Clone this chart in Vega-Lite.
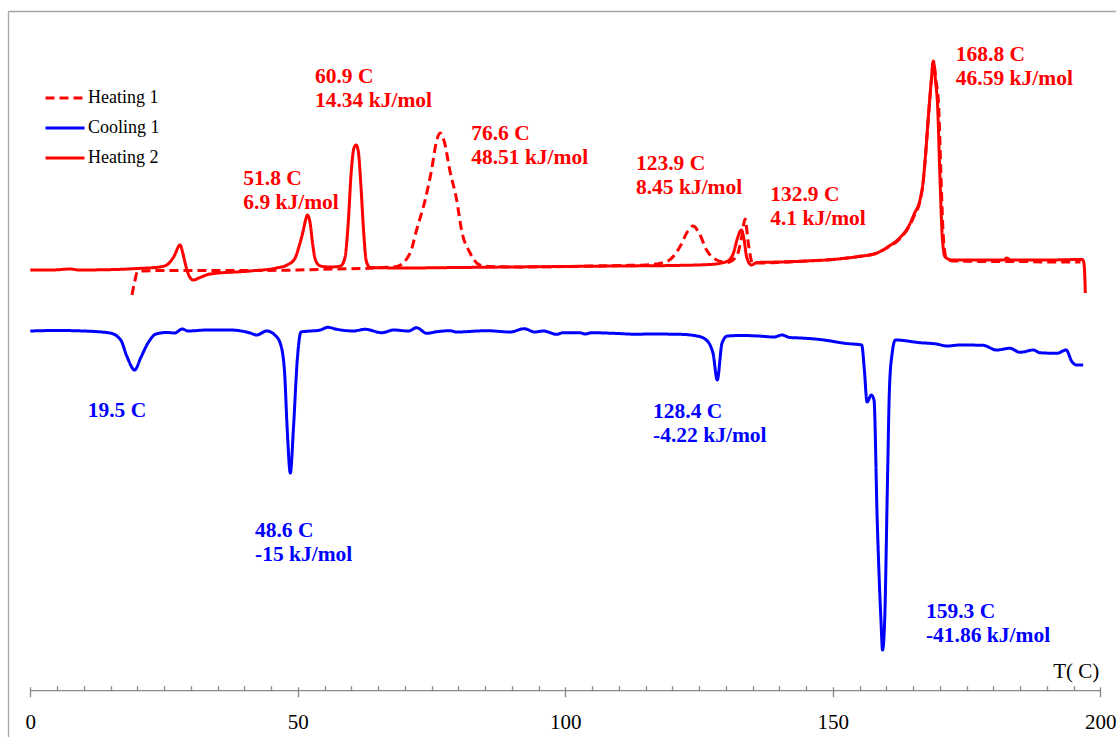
{
  "$schema": "https://vega.github.io/schema/vega-lite/v6.json",
  "width": 1108,
  "height": 726,
  "autosize": {"type": "none"},
  "padding": {"left": 8, "top": 11, "right": 0, "bottom": 0},
  "background": "white",
  "config": {
    "view": {"stroke": null},
    "axis": {"grid": false},
    "font": "Liberation Serif",
    "legend": {"labelFont": "Liberation Serif", "labelFontSize": 18, "labelColor": "#000000"}
  },
  "datasets": {
    "dsc": [
      {"series":"Heating 1","T":19.0,"hf":45.6},{"series":"Heating 1","T":19.5,"hf":46.9},{"series":"Heating 1","T":20.0,"hf":47.9},{"series":"Heating 1","T":20.5,"hf":48.0},{"series":"Heating 1","T":25,"hf":48.05},{"series":"Heating 1","T":30,"hf":48.05},{"series":"Heating 1","T":40,"hf":48.05},{"series":"Heating 1","T":50,"hf":48.1},{"series":"Heating 1","T":57,"hf":48.2},{"series":"Heating 1","T":62,"hf":48.25},{"series":"Heating 1","T":66,"hf":48.35},{"series":"Heating 1","T":68.5,"hf":48.45},{"series":"Heating 1","T":71.0,"hf":49.8},{"series":"Heating 1","T":72.2,"hf":52.1},{"series":"Heating 1","T":73.8,"hf":55.1},{"series":"Heating 1","T":75.0,"hf":58.1},{"series":"Heating 1","T":75.9,"hf":60.9},{"series":"Heating 1","T":76.6,"hf":61.8},{"series":"Heating 1","T":77.4,"hf":60.9},{"series":"Heating 1","T":78.4,"hf":58.1},{"series":"Heating 1","T":79.7,"hf":55.1},{"series":"Heating 1","T":80.6,"hf":52.1},{"series":"Heating 1","T":82.2,"hf":49.8},{"series":"Heating 1","T":84,"hf":48.6},{"series":"Heating 1","T":86,"hf":48.45},{"series":"Heating 1","T":90,"hf":48.4},{"series":"Heating 1","T":100,"hf":48.45},{"series":"Heating 1","T":110,"hf":48.55},{"series":"Heating 1","T":115,"hf":48.6},{"series":"Heating 1","T":119.0,"hf":48.95},{"series":"Heating 1","T":121.4,"hf":50.4},{"series":"Heating 1","T":122.8,"hf":51.9},{"series":"Heating 1","T":123.9,"hf":52.5},{"series":"Heating 1","T":125.0,"hf":51.8},{"series":"Heating 1","T":126.4,"hf":50.1},{"series":"Heating 1","T":128.3,"hf":49.1},{"series":"Heating 1","T":130.2,"hf":48.85},{"series":"Heating 1","T":132.0,"hf":49.45},{"series":"Heating 1","T":133.0,"hf":51.5},{"series":"Heating 1","T":133.6,"hf":53.2},{"series":"Heating 1","T":134.2,"hf":50.8},{"series":"Heating 1","T":135.0,"hf":48.8},{"series":"Heating 1","T":136,"hf":48.8},{"series":"Heating 1","T":140,"hf":48.85},{"series":"Heating 1","T":145,"hf":49.0},{"series":"Heating 1","T":150,"hf":49.15},{"series":"Heating 1","T":154.8,"hf":49.45},{"series":"Heating 1","T":158,"hf":49.75},{"series":"Heating 1","T":160.4,"hf":50.4},{"series":"Heating 1","T":162.5,"hf":51.2},{"series":"Heating 1","T":164.1,"hf":52.3},{"series":"Heating 1","T":165.3,"hf":53.6},{"series":"Heating 1","T":166.3,"hf":55.0},{"series":"Heating 1","T":166.9,"hf":56.9},{"series":"Heating 1","T":167.3,"hf":59.3},{"series":"Heating 1","T":168.0,"hf":64.3},{"series":"Heating 1","T":168.4,"hf":66.9},{"series":"Heating 1","T":168.8,"hf":68.9},{"series":"Heating 1","T":169.3,"hf":67.0},{"series":"Heating 1","T":169.8,"hf":64.4},{"series":"Heating 1","T":170.2,"hf":57.8},{"series":"Heating 1","T":170.7,"hf":51.1},{"series":"Heating 1","T":171.2,"hf":49.3},{"series":"Heating 1","T":172.5,"hf":49.0},{"series":"Heating 1","T":180,"hf":48.95},{"series":"Heating 1","T":185,"hf":48.95},{"series":"Heating 1","T":190,"hf":48.9},{"series":"Heating 1","T":196.3,"hf":48.9},

      {"series":"Cooling 1","T":0,"hf":42.0},{"series":"Cooling 1","T":5,"hf":42.05},{"series":"Cooling 1","T":10,"hf":42.0},{"series":"Cooling 1","T":14.9,"hf":41.8},{"series":"Cooling 1","T":16.9,"hf":41.1},{"series":"Cooling 1","T":18.1,"hf":39.4},{"series":"Cooling 1","T":19.5,"hf":38.1},{"series":"Cooling 1","T":20.7,"hf":39.4},{"series":"Cooling 1","T":22.0,"hf":40.8},{"series":"Cooling 1","T":23.5,"hf":41.7},{"series":"Cooling 1","T":25.5,"hf":41.85},{"series":"Cooling 1","T":27.0,"hf":41.8},{"series":"Cooling 1","T":28.4,"hf":42.2},{"series":"Cooling 1","T":29.5,"hf":42.0},{"series":"Cooling 1","T":33,"hf":42.1},{"series":"Cooling 1","T":37.3,"hf":42.1},{"series":"Cooling 1","T":41.1,"hf":41.8},{"series":"Cooling 1","T":42.3,"hf":41.6},{"series":"Cooling 1","T":44.2,"hf":42.0},{"series":"Cooling 1","T":45.7,"hf":41.6},{"series":"Cooling 1","T":46.7,"hf":40.8},{"series":"Cooling 1","T":47.5,"hf":38.1},{"series":"Cooling 1","T":48.0,"hf":32.4},{"series":"Cooling 1","T":48.6,"hf":27.8},{"series":"Cooling 1","T":49.2,"hf":32.4},{"series":"Cooling 1","T":49.9,"hf":39.1},{"series":"Cooling 1","T":50.6,"hf":41.9},{"series":"Cooling 1","T":54.2,"hf":42.1},{"series":"Cooling 1","T":55.6,"hf":42.37},{"series":"Cooling 1","T":57.3,"hf":42.17},{"series":"Cooling 1","T":60.4,"hf":42.0},{"series":"Cooling 1","T":62.6,"hf":42.17},{"series":"Cooling 1","T":65.7,"hf":41.83},{"series":"Cooling 1","T":67.9,"hf":42.1},{"series":"Cooling 1","T":70.7,"hf":42.0},{"series":"Cooling 1","T":72.2,"hf":42.33},{"series":"Cooling 1","T":74.1,"hf":41.77},{"series":"Cooling 1","T":76.0,"hf":41.93},{"series":"Cooling 1","T":78.4,"hf":42.03},{"series":"Cooling 1","T":79.7,"hf":41.9},{"series":"Cooling 1","T":85.3,"hf":42.03},{"series":"Cooling 1","T":89.7,"hf":41.9},{"series":"Cooling 1","T":92.3,"hf":42.23},{"series":"Cooling 1","T":94.3,"hf":41.9},{"series":"Cooling 1","T":95.9,"hf":42.0},{"series":"Cooling 1","T":98.4,"hf":41.67},{"series":"Cooling 1","T":99.6,"hf":41.83},{"series":"Cooling 1","T":102.7,"hf":41.83},{"series":"Cooling 1","T":103.7,"hf":41.7},{"series":"Cooling 1","T":104.9,"hf":41.83},{"series":"Cooling 1","T":109.0,"hf":41.77},{"series":"Cooling 1","T":113.6,"hf":41.67},{"series":"Cooling 1","T":115.2,"hf":41.7},{"series":"Cooling 1","T":121.4,"hf":41.67},{"series":"Cooling 1","T":124.6,"hf":41.5},{"series":"Cooling 1","T":126.2,"hf":41.17},{"series":"Cooling 1","T":127.6,"hf":39.8},{"series":"Cooling 1","T":128.4,"hf":37.1},{"series":"Cooling 1","T":129.3,"hf":40.8},{"series":"Cooling 1","T":130.3,"hf":41.5},{"series":"Cooling 1","T":133,"hf":41.55},{"series":"Cooling 1","T":136,"hf":41.5},{"series":"Cooling 1","T":139,"hf":41.4},{"series":"Cooling 1","T":140.5,"hf":41.6},{"series":"Cooling 1","T":142,"hf":41.35},{"series":"Cooling 1","T":144,"hf":41.3},{"series":"Cooling 1","T":147.6,"hf":41.15},{"series":"Cooling 1","T":152.6,"hf":40.75},{"series":"Cooling 1","T":155.4,"hf":40.6},{"series":"Cooling 1","T":155.9,"hf":38.1},{"series":"Cooling 1","T":156.4,"hf":34.9},{"series":"Cooling 1","T":157.2,"hf":35.6},{"series":"Cooling 1","T":157.7,"hf":35.1},{"series":"Cooling 1","T":158.3,"hf":23.1},{"series":"Cooling 1","T":159.0,"hf":13.1},{"series":"Cooling 1","T":159.3,"hf":10.1},{"series":"Cooling 1","T":159.7,"hf":13.1},{"series":"Cooling 1","T":160.2,"hf":26.4},{"series":"Cooling 1","T":160.6,"hf":36.4},{"series":"Cooling 1","T":161.1,"hf":39.8},{"series":"Cooling 1","T":161.7,"hf":41.1},{"series":"Cooling 1","T":166.3,"hf":40.83},{"series":"Cooling 1","T":169.4,"hf":40.7},{"series":"Cooling 1","T":171.3,"hf":40.5},{"series":"Cooling 1","T":173.8,"hf":40.6},{"series":"Cooling 1","T":178.1,"hf":40.57},{"series":"Cooling 1","T":180.6,"hf":40.1},{"series":"Cooling 1","T":183.1,"hf":40.27},{"series":"Cooling 1","T":185.0,"hf":39.87},{"series":"Cooling 1","T":187.5,"hf":40.1},{"series":"Cooling 1","T":188.7,"hf":39.83},{"series":"Cooling 1","T":191.9,"hf":39.77},{"series":"Cooling 1","T":193.6,"hf":40.1},{"series":"Cooling 1","T":194.7,"hf":38.93},{"series":"Cooling 1","T":195.6,"hf":38.6},{"series":"Cooling 1","T":196.8,"hf":38.6},

      {"series":"Heating 2","T":0,"hf":48.1},{"series":"Heating 2","T":4,"hf":48.1},{"series":"Heating 2","T":7.5,"hf":48.2},{"series":"Heating 2","T":9,"hf":48.1},{"series":"Heating 2","T":16,"hf":48.15},{"series":"Heating 2","T":20,"hf":48.25},{"series":"Heating 2","T":24.2,"hf":48.4},{"series":"Heating 2","T":25.5,"hf":48.6},{"series":"Heating 2","T":26.8,"hf":49.4},{"series":"Heating 2","T":28,"hf":50.6},{"series":"Heating 2","T":28.5,"hf":49.8},{"series":"Heating 2","T":28.9,"hf":48.9},{"series":"Heating 2","T":29.6,"hf":47.6},{"series":"Heating 2","T":30.5,"hf":47.1},{"series":"Heating 2","T":31.5,"hf":47.3},{"series":"Heating 2","T":33.6,"hf":47.7},{"series":"Heating 2","T":41.1,"hf":48.0},{"series":"Heating 2","T":46,"hf":48.3},{"series":"Heating 2","T":48.0,"hf":48.6},{"series":"Heating 2","T":49.4,"hf":49.2},{"series":"Heating 2","T":50.2,"hf":50.4},{"series":"Heating 2","T":51.0,"hf":52.0},{"series":"Heating 2","T":51.5,"hf":53.2},{"series":"Heating 2","T":51.8,"hf":53.6},{"series":"Heating 2","T":52.3,"hf":52.8},{"series":"Heating 2","T":52.8,"hf":50.6},{"series":"Heating 2","T":53.3,"hf":49.1},{"series":"Heating 2","T":54.2,"hf":48.5},{"series":"Heating 2","T":56,"hf":48.4},{"series":"Heating 2","T":58.0,"hf":48.5},{"series":"Heating 2","T":58.8,"hf":49.3},{"series":"Heating 2","T":59.4,"hf":52.6},{"series":"Heating 2","T":60.0,"hf":58.0},{"series":"Heating 2","T":60.5,"hf":60.3},{"series":"Heating 2","T":60.9,"hf":60.6},{"series":"Heating 2","T":61.3,"hf":60.0},{"series":"Heating 2","T":61.8,"hf":56.5},{"series":"Heating 2","T":62.3,"hf":52.0},{"series":"Heating 2","T":62.8,"hf":49.0},{"series":"Heating 2","T":63.5,"hf":48.35},{"series":"Heating 2","T":70,"hf":48.3},{"series":"Heating 2","T":80,"hf":48.35},{"series":"Heating 2","T":90,"hf":48.4},{"series":"Heating 2","T":100,"hf":48.45},{"series":"Heating 2","T":110,"hf":48.5},{"series":"Heating 2","T":120,"hf":48.55},{"series":"Heating 2","T":127,"hf":48.65},{"series":"Heating 2","T":130.2,"hf":48.95},{"series":"Heating 2","T":131.4,"hf":49.75},{"series":"Heating 2","T":132.2,"hf":51.3},{"series":"Heating 2","T":132.9,"hf":52.1},{"series":"Heating 2","T":133.4,"hf":51.2},{"series":"Heating 2","T":133.9,"hf":49.4},{"series":"Heating 2","T":134.8,"hf":48.6},{"series":"Heating 2","T":135.8,"hf":48.85},{"series":"Heating 2","T":140,"hf":48.9},{"series":"Heating 2","T":145,"hf":49.0},{"series":"Heating 2","T":150,"hf":49.15},{"series":"Heating 2","T":154.8,"hf":49.45},{"series":"Heating 2","T":158,"hf":49.75},{"series":"Heating 2","T":160.4,"hf":50.45},{"series":"Heating 2","T":162.5,"hf":51.3},{"series":"Heating 2","T":164.1,"hf":52.4},{"series":"Heating 2","T":165.3,"hf":53.8},{"series":"Heating 2","T":166.3,"hf":55.1},{"series":"Heating 2","T":166.9,"hf":57.0},{"series":"Heating 2","T":167.3,"hf":59.4},{"series":"Heating 2","T":168.0,"hf":64.4},{"series":"Heating 2","T":168.4,"hf":67.0},{"series":"Heating 2","T":168.8,"hf":69.0},{"series":"Heating 2","T":169.2,"hf":67.0},{"series":"Heating 2","T":169.6,"hf":64.4},{"series":"Heating 2","T":170.0,"hf":57.8},{"series":"Heating 2","T":170.5,"hf":51.1},{"series":"Heating 2","T":171.0,"hf":49.4},{"series":"Heating 2","T":172.3,"hf":49.1},{"series":"Heating 2","T":180,"hf":49.1},{"series":"Heating 2","T":182,"hf":49.1},{"series":"Heating 2","T":182.5,"hf":49.3},{"series":"Heating 2","T":183.2,"hf":49.1},{"series":"Heating 2","T":190,"hf":49.1},{"series":"Heating 2","T":196.6,"hf":49.15},{"series":"Heating 2","T":196.9,"hf":48.9},{"series":"Heating 2","T":197.1,"hf":47.5},{"series":"Heating 2","T":197.2,"hf":45.8}
    ],
    "notes": [
      {"series":"Heating 2","T":39.81,"hf":56.6,"label":"51.8 C"},
      {"series":"Heating 2","T":39.81,"hf":54.2,"label":"6.9 kJ/mol"},
      {"series":"Heating 2","T":53.21,"hf":66.8,"label":"60.9 C"},
      {"series":"Heating 2","T":53.21,"hf":64.4,"label":"14.34 kJ/mol"},
      {"series":"Heating 1","T":82.4,"hf":61.15,"label":"76.6 C"},
      {"series":"Heating 1","T":82.4,"hf":58.75,"label":"48.51 kJ/mol"},
      {"series":"Heating 1","T":113.2,"hf":58.1,"label":"123.9 C"},
      {"series":"Heating 1","T":113.2,"hf":55.7,"label":"8.45 kJ/mol"},
      {"series":"Heating 2","T":138.3,"hf":55.0,"label":"132.9 C"},
      {"series":"Heating 2","T":138.3,"hf":52.6,"label":"4.1 kJ/mol"},
      {"series":"Heating 2","T":173.0,"hf":69.0,"label":"168.8 C"},
      {"series":"Heating 2","T":173.0,"hf":66.6,"label":"46.59 kJ/mol"},
      {"series":"Cooling 1","T":10.73,"hf":33.4,"label":"19.5 C"},
      {"series":"Cooling 1","T":42.0,"hf":21.4,"label":"48.6 C"},
      {"series":"Cooling 1","T":42.0,"hf":19.0,"label":"-15 kJ/mol"},
      {"series":"Cooling 1","T":116.4,"hf":33.3,"label":"128.4 C"},
      {"series":"Cooling 1","T":116.4,"hf":30.9,"label":"-4.22 kJ/mol"},
      {"series":"Cooling 1","T":167.4,"hf":13.3,"label":"159.3 C"},
      {"series":"Cooling 1","T":167.4,"hf":10.9,"label":"-41.86 kJ/mol"}
    ]
  },
  "resolve": {"axis": {"x": "independent", "y": "independent"}},
  "layer": [
    {
      "data": {"name": "dsc"},
      "mark": {"type": "line", "strokeWidth": 3, "interpolate": "monotone"},
      "encoding": {
        "x": {
          "field": "T", "type": "quantitative",
          "scale": {"domain": [-4.168, 202.935], "nice": false, "zero": false},
          "axis": {
            "orient": "bottom", "offset": -50.3, "values": [0, 50, 100, 150, 200],
            "domain": false, "tickSize": 10, "tickColor": "#888888", "tickWidth": 1.3,
            "labelFont": "Liberation Serif", "labelFontSize": 21, "labelColor": "#000000",
            "labelBaseline": "alphabetic", "labelPadding": 32, "labelFlush": false,
            "labelOverlap": false, "title": null
          }
        },
        "y": {
          "field": "hf", "type": "quantitative",
          "scale": {"domain": [1.4, 74], "nice": false, "zero": false},
          "axis": {"orient": "left", "domain": true, "domainColor": "#a6a6a6", "domainWidth": 1.3,
                   "ticks": false, "labels": false, "title": null}
        },
        "color": {
          "field": "series", "type": "nominal",
          "scale": {"domain": ["Heating 1", "Cooling 1", "Heating 2"], "range": ["#ff0000", "#0000ff", "#ff0000"]},
          "legend": {
            "orient": "none", "legendX": 36, "legendY": 66, "title": null,
            "symbolType": "stroke", "symbolSize": 1521, "symbolStrokeWidth": 3,
            "labelFont": "Liberation Serif", "labelFontSize": 18, "labelColor": "#000000",
            "rowPadding": -9, "labelOffset": 2, "padding": 0
          }
        },
        "strokeDash": {
          "field": "series", "type": "nominal",
          "scale": {"domain": ["Heating 1", "Cooling 1", "Heating 2"], "range": [[9, 5], [1, 0], [1, 0]]},
          "legend": {
            "orient": "none", "legendX": 36, "legendY": 66, "title": null,
            "symbolType": "stroke", "symbolSize": 1521, "symbolStrokeWidth": 3,
            "labelFont": "Liberation Serif", "labelFontSize": 18, "labelColor": "#000000",
            "rowPadding": -9, "labelOffset": 2, "padding": 0
          }
        }
      }
    },
    {
      "data": {"values": [{}]},
      "mark": {"type": "rule", "color": "#888888", "strokeWidth": 1.3},
      "encoding": {
        "x": {
          "datum": 0, "type": "quantitative",
          "axis": {
            "orient": "bottom", "offset": -46.3,
            "values": [5,10,15,20,25,30,35,40,45,55,60,65,70,75,80,85,90,95,105,110,115,120,125,130,135,140,145,155,160,165,170,175,180,185,190,195],
            "domain": false, "tickSize": -5, "tickColor": "#888888", "tickWidth": 1.3,
            "labels": false, "title": null
          }
        },
        "x2": {"datum": 200},
        "y": {"datum": 6.03, "type": "quantitative", "axis": null}
      }
    },
    {
      "data": {"name": "notes"},
      "mark": {"type": "text", "align": "left", "baseline": "alphabetic", "font": "Liberation Serif", "fontWeight": "bold", "fontSize": 21.5},
      "encoding": {
        "x": {
          "field": "T", "type": "quantitative",
          "axis": {"orient": "top", "domain": true, "domainColor": "#a6a6a6", "domainWidth": 1.3,
                   "ticks": false, "labels": false, "title": null, "offset": 0}
        },
        "y": {"field": "hf", "type": "quantitative", "axis": null},
        "text": {"field": "label"},
        "fill": {
          "field": "series", "type": "nominal",
          "scale": {"domain": ["Heating 1", "Cooling 1", "Heating 2"], "range": ["#ff0000", "#0000ff", "#ff0000"]},
          "legend": null
        }
      }
    },
    {
      "data": {"values": [{}]},
      "mark": {"type": "text", "align": "left", "baseline": "alphabetic", "font": "Liberation Serif", "fontSize": 21, "color": "#000000"},
      "encoding": {
        "x": {"datum": 191.2, "type": "quantitative", "axis": null},
        "y": {"datum": 7.3, "type": "quantitative", "axis": null},
        "text": {"value": "T( C)"}
      }
    }
  ]
}
